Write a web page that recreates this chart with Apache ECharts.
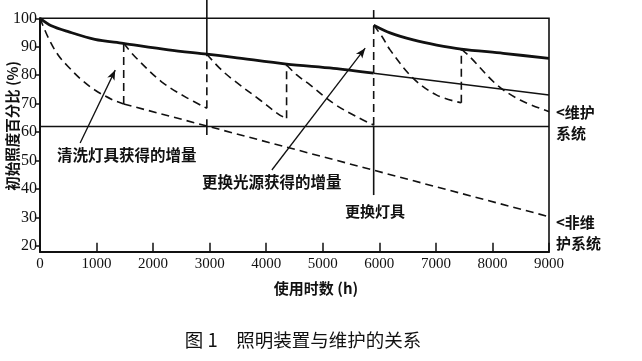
<!DOCTYPE html>
<html><head><meta charset="utf-8">
<script src="https://cdn.jsdelivr.net/npm/echarts@6/dist/echarts.min.js"></script>
<style>html,body{margin:0;padding:0;background:#fff}#c{width:642px;height:361px}</style>
</head><body><div id="c"></div>
<script>
// ---- data (hours, % of initial illuminance) ----
const xTicks = [0,1000,2000,3000,4000,5000,6000,7000,8000,9000];
const yTicks = [20,30,40,50,60,70,80,90,100];
// maintained system (thick solid), before and after luminaire replacement
const maintainedA = [[0,100],[200,97.4],[500,95.3],[970,92.6],[1470,91.2],[2270,88.9],[2950,87.4],[3420,86.3],[4360,83.9],[5190,82.4],[5900,80.7]];
const maintainedB = [[5900,97.6],[6190,94.9],[6600,92.4],[7015,90.6],[7450,89.2],[8190,87.7],[9000,85.9]];
// old trend continued without luminaire replacement (thin solid)
const trendOld = [[5900,80.7],[9000,73.05]];
// sawtooth segments with cleaning / lamp replacement (dashed)
const seg1 = [[0,100],[150,93.0],[320,87.1],[500,83.0],[740,78.3],[970,74.8],[1270,71.5],[1480,69.9]];
const seg2 = [[1480,91.2],[1680,86.5],[2150,77.7],[2560,72.5],[2950,68.4]];
const seg3 = [[2950,87.4],[3180,82.4],[3420,78.3],[3890,71.3],[4240,66.0],[4360,64.9]];
const seg4 = [[4360,83.6],[4540,80.1],[4775,76.6],[5190,70.1],[5600,65.4],[5900,62.5]];
const seg5 = [[5900,97.6],[6050,93.5],[6190,88.9],[6600,78.9],[7015,73.0],[7450,70.3]];
const seg6 = [[7450,89.2],[7600,86.5],[8080,76.6],[8490,71.3],[9000,67.2]];
// non-maintained system (dashed straight after first decay)
const nonMaintained = [[1480,69.9],[9000,30.3]];
// horizontal reference level
const levelLine = [[0,62],[9000,62]];
// event marker lines
const marker3000a = [[2950,106.4],[2950,87.4]];
const marker3000b = [[2950,64.5],[2950,59]];
const marker6000a = [[5900,102.9],[5900,100]];
const marker6000b = [[5900,62.3],[5900,37.9]];
// annotation arrows [tail, head]
const arrowClean = [[710,56.2],[1330,81.8]];
const arrowLamp = [[4100,46.7],[5750,89.5]];

const segs = [seg1,seg2,seg3,seg4,seg5,seg6];
const black = '#111';
const dash = [8,5];
const serif = "'Liberation Serif', 'Times New Roman', 'DejaVu Serif', serif";
const series = [];
function line(data, opt){
  series.push(Object.assign({type:'line', data:data, symbol:'none', silent:true, animation:false,
    lineStyle:{color:black, width:1.5}}, opt||{}));
}
line(maintainedA, {smooth:0.3, lineStyle:{color:black,width:2.8}});
line(maintainedB, {smooth:0.3, lineStyle:{color:black,width:2.8}});
line(trendOld, {lineStyle:{color:black,width:1.6}});
segs.forEach(s => line(s, {smooth:0.35, lineStyle:{color:black,width:1.6,type:dash}}));
for (let i=0;i<segs.length-1;i++){
  const a = segs[i][segs[i].length-1], b = segs[i+1][0];
  line([a,b], {lineStyle:{color:black,width:1.6,type:dash}});
}
line(nonMaintained, {lineStyle:{color:black,width:1.6,type:dash}});
line(levelLine, {lineStyle:{color:black,width:1.6}});
[marker3000a,marker3000b,marker6000a,marker6000b].forEach(m => line(m, {clip:false, lineStyle:{color:black,width:1.6}}));
series.push({type:'line', data:[], silent:true, animation:false,
  markLine:{silent:true, animation:false, symbol:['none','arrow'], symbolSize:[6,10],
    label:{show:false}, lineStyle:{color:black,width:1.3,type:'solid'},
    data:[[{coord:arrowClean[0]},{coord:arrowClean[1]}],[{coord:arrowLamp[0]},{coord:arrowLamp[1]}]]}});

const cjk = '"Noto Sans CJK SC"';
function txt(text, x, y, opt){
  return Object.assign({type:'text', x:x, y:y, style:Object.assign({text:text, fill:black,
    font:'bold 15px '+cjk, textAlign:'left', textVerticalAlign:'middle'}, (opt&&opt.style)||{})},
    opt&&opt.rotation!==undefined?{rotation:opt.rotation}:{});
}

const chart = echarts.init(document.getElementById('c'), null, {renderer:'canvas'});
chart.setOption({
  animation:false,
  grid:{left:40, right:93, top:18.3, bottom:109.3, show:true, borderColor:black, borderWidth:1.6, backgroundColor:'transparent'},
  xAxis:{type:'value', min:0, max:9000, interval:1000,
    axisLine:{lineStyle:{color:black,width:2}},
    axisTick:{inside:true, length:9, lineStyle:{color:black,width:1.5}},
    axisLabel:{color:black, fontFamily:serif, fontSize:15, margin:5, formatter:v => String(v)},
    splitLine:{show:false}},
  yAxis:{type:'value', min:18, max:100,
    axisLine:{show:true, lineStyle:{color:black,width:2}},
    axisTick:{show:true, length:4, customValues:yTicks, lineStyle:{color:black,width:1.5}},
    axisLabel:{color:black, fontFamily:serif, fontSize:16, margin:3, customValues:yTicks, formatter:v => String(v)},
    splitLine:{show:false}},
  series:series,
  graphic:[
    txt('清洗灯具获得的增量', 57, 155, {style:{font:'bold 15.5px '+cjk}}),
    txt('更换光源获得的增量', 202, 182, {style:{font:'bold 15.5px '+cjk}}),
    txt('更换灯具', 345, 211),
    txt('<维护', 556, 112),
    txt('系统', 556, 133),
    txt('<非维', 556, 222),
    txt('护系统', 556, 243),
    txt('使用时数 (h)', 316, 288, {style:{textAlign:'center'}}),
    txt('图 1　照明装置与维护的关系', 303, 340, {style:{textAlign:'center', font:'18.5px '+cjk}}),
    txt('初始照度百分比 (%)', 12, 126, {rotation:Math.PI/2, style:{textAlign:'center', font:'bold 14.5px '+cjk}})
  ]
});
</script></body></html>
